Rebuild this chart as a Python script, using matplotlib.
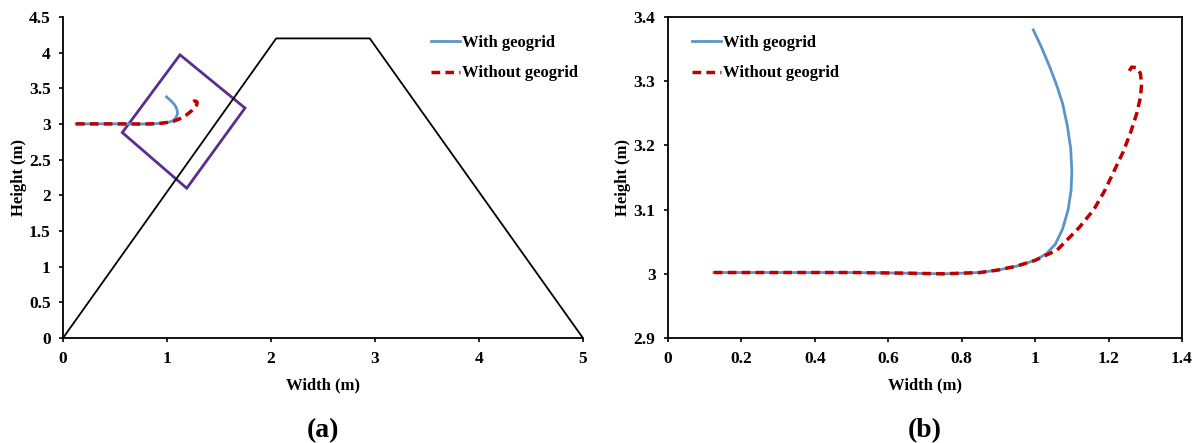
import matplotlib.pyplot as plt
from matplotlib.patches import Polygon

plt.rcParams['font.family'] = ['Liberation Serif', 'DejaVu Serif']
plt.rcParams['font.weight'] = 'bold'
plt.rcParams['font.size'] = 12

# embankment outline (a)
slope_x = [0, 2.05, 2.95, 5]
slope_y = [0, 4.2, 4.2, 0]

# zoom box corners (a)
box_x = [1.125, 1.75, 1.19, 0.57]
box_y = [3.97, 3.224, 2.10, 2.88]

# trajectories
with_x = [0.125, 0.3, 0.5, 0.65, 0.75, 0.85, 0.9, 0.95, 1.0, 1.03, 1.055, 1.075,
          1.09, 1.098, 1.1, 1.097, 1.088, 1.075, 1.058, 1.04, 1.018, 0.995]
with_y = [3.002, 3.002, 3.002, 3.001, 3.0, 3.002, 3.006, 3.012, 3.021, 3.031, 3.046, 3.07,
          3.1, 3.13, 3.16, 3.195, 3.23, 3.265, 3.295, 3.322, 3.352, 3.38]

without_x = [0.125, 0.3, 0.5, 0.65, 0.75, 0.85, 0.9, 0.95, 1.0, 1.06, 1.12, 1.16, 1.19,
             1.215, 1.24, 1.26, 1.277, 1.287, 1.29, 1.287, 1.277, 1.263, 1.25]
without_y = [3.002, 3.002, 3.002, 3.001, 3.0, 3.002, 3.006, 3.012, 3.021, 3.037, 3.072, 3.10, 3.13,
             3.16, 3.19, 3.22, 3.25, 3.275, 3.295, 3.312, 3.321, 3.322, 3.31]

blue = '#5b95c8'
red = '#c00000'

fig = plt.figure(figsize=(11.98, 4.43), dpi=100)
ax1 = fig.add_axes([0.0526, 0.237, 0.434, 0.7246])
ax2 = fig.add_axes([0.5576, 0.237, 0.429, 0.7246])

# (a)
ax1.plot(slope_x, slope_y, color='black', lw=1.3)
ax1.add_patch(Polygon(list(zip(box_x, box_y)), closed=True, fill=False, edgecolor='#5a2d91', lw=2))
ax1.plot(with_x, with_y, color=blue, lw=2, label='With geogrid')
ax1.plot(without_x, without_y, color=red, lw=2.5, ls=(0, (2.5, 1.5)), label='Without geogrid')
ax1.set_xlim(0, 5)
ax1.set_ylim(0, 4.5)
ax1.set_xticks([0, 1, 2, 3, 4, 5])
ax1.set_yticks([0, 0.5, 1, 1.5, 2, 2.5, 3, 3.5, 4, 4.5])
ax1.set_yticklabels(['0', '0.5', '1', '1.5', '2', '2.5', '3', '3.5', '4', '4.5'])
ax1.spines['top'].set_visible(False)
ax1.spines['right'].set_visible(False)
ax1.set_xlabel('Width (m)', fontweight='bold', labelpad=8)
ax1.set_ylabel('Height (m)', fontweight='bold', labelpad=1)
ax1.legend(loc='upper left', bbox_to_anchor=(0.708, 0.943), frameon=False, borderpad=0,
           borderaxespad=0, handlelength=1.75, handletextpad=0.1, labelspacing=0.85)
ax1.text(0.5, -0.29, '(a)', transform=ax1.transAxes, ha='center', va='center',
         fontsize=20, fontweight='bold')

# (b)
ax2.plot(with_x, with_y, color=blue, lw=2, label='With geogrid')
ax2.plot(without_x, without_y, color=red, lw=2.5, ls=(0, (2.5, 1.5)), label='Without geogrid')
ax2.set_xlim(0, 1.4)
ax2.set_ylim(2.9, 3.4)
ax2.set_xticks([0, 0.2, 0.4, 0.6, 0.8, 1, 1.2, 1.4])
ax2.set_xticklabels(['0', '0.2', '0.4', '0.6', '0.8', '1', '1.2', '1.4'])
ax2.set_yticks([2.9, 3, 3.1, 3.2, 3.3, 3.4])
ax2.set_yticklabels(['2.9', '3', '3.1', '3.2', '3.3', '3.4'])
ax2.set_xlabel('Width (m)', fontweight='bold', labelpad=8)
ax2.set_ylabel('Height (m)', fontweight='bold', labelpad=2)
ax2.legend(loc='upper left', bbox_to_anchor=(0.047, 0.943), frameon=False, borderpad=0,
           borderaxespad=0, handlelength=1.75, handletextpad=0.1, labelspacing=0.85)
ax2.text(0.5, -0.29, '(b)', transform=ax2.transAxes, ha='center', va='center',
         fontsize=20, fontweight='bold')

for ax in (ax1, ax2):
    for s in ax.spines.values():
        s.set_linewidth(1.3)
    ax.tick_params(direction='out', length=3, width=1.2, labelsize=12.5, pad=6)

fig.savefig('out.png', dpi=100)
